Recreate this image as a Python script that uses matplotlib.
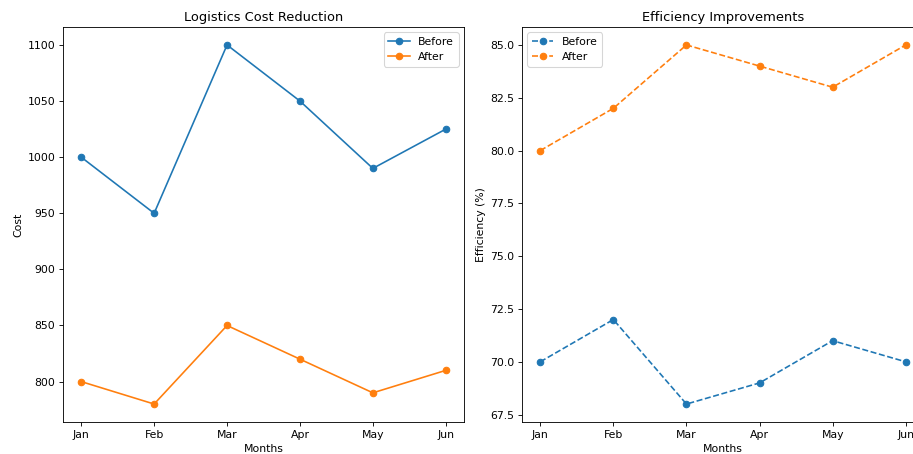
import matplotlib
matplotlib.use("Agg")
import matplotlib.pyplot as plt

months = ["Jan", "Feb", "Mar", "Apr", "May", "Jun"]
cost_before = [1000, 950, 1100, 1050, 990, 1025]
cost_after = [800, 780, 850, 820, 790, 810]
eff_before = [70, 72, 68, 69, 71, 70]
eff_after = [80, 82, 85, 84, 83, 85]

DPI = 78
W, H = 914, 454
fig = plt.figure(figsize=(W / DPI, H / DPI), dpi=DPI)
ax1 = fig.add_axes([63 / W, 1 - 422 / H, (464 - 63) / W, (422 - 27) / H])
ax2 = fig.add_axes([522 / W, 1 - 422 / H, (924 - 522) / W, (422 - 27) / H])

ax1.plot(months, cost_before, marker="o", label="Before")
ax1.plot(months, cost_after, marker="o", label="After")
ax1.set_title("Logistics Cost Reduction")
ax1.set_xlabel("Months")
ax1.set_ylabel("Cost")
ax1.legend()

ax2.plot(months, eff_before, marker="o", linestyle="--", label="Before")
ax2.plot(months, eff_after, marker="o", linestyle="--", label="After")
ax2.set_title("Efficiency Improvements")
ax2.set_xlabel("Months")
ax2.set_ylabel("Efficiency (%)")
ax2.legend()

fig.savefig("out.png", dpi=DPI)
